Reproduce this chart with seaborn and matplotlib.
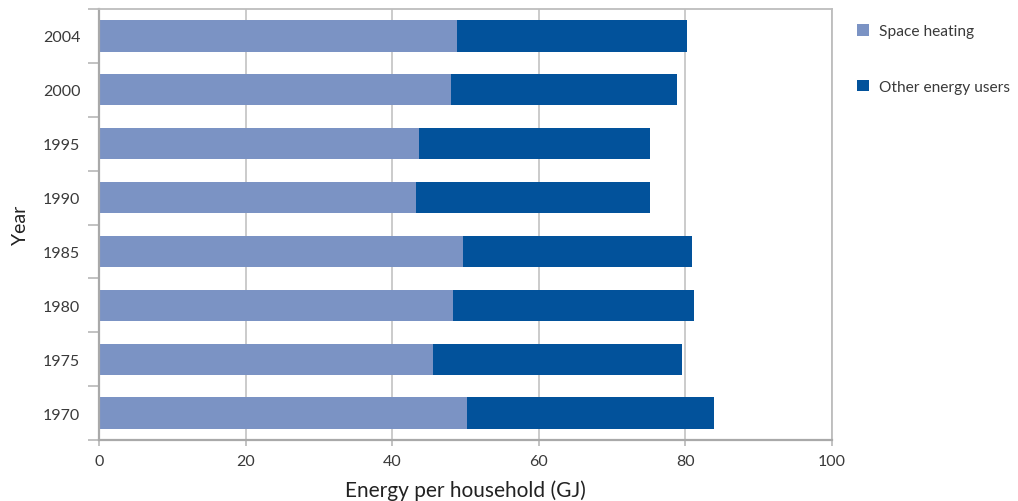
import matplotlib
matplotlib.use("Agg")
import matplotlib.pyplot as plt
from matplotlib.patches import Patch
from matplotlib.ticker import FixedLocator
import pandas as pd
import seaborn as sns

# Household energy use by year (GJ per household)
years = ["2004", "2000", "1995", "1990", "1985", "1980", "1975", "1970"]
space_heating = [48.8, 48.0, 43.7, 43.2, 49.7, 48.3, 45.6, 50.2]
other_energy = [31.4, 30.9, 31.5, 32.0, 31.2, 32.9, 33.9, 33.7]
x_ticks = [0, 20, 40, 60, 80, 100]

totals = [h + o for h, o in zip(space_heating, other_energy)]
df = pd.DataFrame({"Year": years, "heating": space_heating, "total": totals})

sns.set_theme(style="white")
plt.rcParams["font.family"] = ["Lato", "DejaVu Sans"]

light = "#7b93c4"
dark = "#02529b"
text_col = "#3a3a3a"

fig = plt.figure(figsize=(10.18, 5.02), dpi=100)
ax = fig.add_axes([99 / 1018, 1 - 441 / 502, (832 - 99) / 1018, (441 - 10) / 502])

# Stacked bars: full total underneath, space heating on top
sns.barplot(data=df, x="total", y="Year", order=years, color=dark,
            width=0.58, saturation=1, ax=ax, orient="h", linewidth=0)
sns.barplot(data=df, x="heating", y="Year", order=years, color=light,
            width=0.58, saturation=1, ax=ax, orient="h", linewidth=0)

ax.set_xlim(0, 100)
ax.set_ylim(len(years) - 0.5, -0.5)
ax.set_xticks(x_ticks)
ax.set_xticklabels([str(t) for t in x_ticks])

ax.grid(axis="x", color="#cbcbcb", linewidth=1.4)
ax.grid(axis="y", visible=False)
ax.set_axisbelow(True)

for side in ["top", "right"]:
    ax.spines[side].set_color("#bdbdbd")
    ax.spines[side].set_linewidth(1.3)
for side in ["left", "bottom"]:
    ax.spines[side].set_color("#a9a9a9")
    ax.spines[side].set_linewidth(1.6)

# Category separators as outward minor ticks on the y axis
ax.yaxis.set_minor_locator(FixedLocator([i - 0.5 for i in range(len(years) + 1)]))
ax.tick_params(axis="y", which="minor", left=True, length=8, width=1.3, color="#bdbdbd")
ax.tick_params(axis="y", which="major", left=False, length=0, pad=13.5,
               labelsize=11.5, labelcolor=text_col)
ax.tick_params(axis="x", which="major", bottom=True, length=4, width=1.3,
               color="#bdbdbd", pad=6, labelsize=11.5, labelcolor=text_col)

ax.set_xlabel("Energy per household (GJ)", fontsize=15, color="#222222", labelpad=8)
ax.set_ylabel("Year", fontsize=14, color="#222222", labelpad=10)

handles = [Patch(facecolor=light, edgecolor="none", label="Space heating"),
           Patch(facecolor=dark, edgecolor="none", label="Other energy users")]
fig.legend(handles=handles, loc="upper left", bbox_to_anchor=(843 / 1018, 1 - 11 / 502),
           frameon=False, fontsize=11.2, labelcolor=text_col, handlelength=0.8,
           handleheight=0.8, handletextpad=0.6, labelspacing=2.65)

fig.savefig("out.png", dpi=100)
